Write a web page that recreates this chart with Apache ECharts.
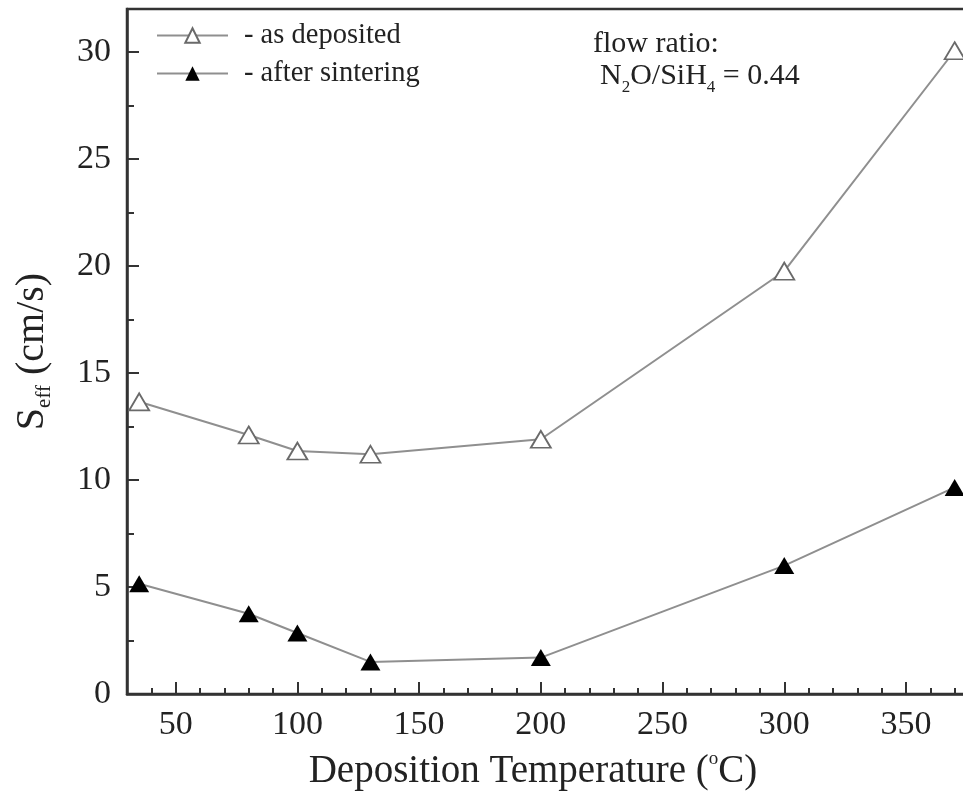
<!DOCTYPE html>
<html>
<head>
<meta charset="utf-8">
<script src="https://cdn.jsdelivr.net/npm/echarts@6/dist/echarts.min.js"></script>
<style>
html,body{margin:0;padding:0;background:#fff;overflow:hidden;}
#chart{width:980px;height:801px;}
</style>
</head>
<body>
<div id="chart"></div>
<script>
// Data
const temperatures = [35, 80, 100, 130, 200, 300, 370];
const asDeposited = [13.65, 12.1, 11.35, 11.2, 11.9, 19.75, 30.05];
const afterSintering = [5.15, 3.75, 2.85, 1.5, 1.7, 6.0, 9.65];
const seriesNames = ['as deposited', 'after sintering'];
const xTicks = [50, 100, 150, 200, 250, 300, 350];
const yTicks = [0, 5, 10, 15, 20, 25, 30];

const FONT = '"Liberation Serif", "Times New Roman", serif';
const pairs = (xs, ys) => xs.map((x, i) => [x, ys[i]]);
const GRID = { left: 127, top: 9, height: 685, width: 852 };

const chart = echarts.init(document.getElementById('chart'));
chart.setOption({
  backgroundColor: '#fff',
  animation: false,
  grid: [
    Object.assign({ show: true, borderColor: '#333', borderWidth: 2.5, containLabel: false }, GRID),
    Object.assign({ show: false, containLabel: false }, GRID)
  ],
  legend: {
    orient: 'vertical',
    left: 151, top: 16,
    itemWidth: 71, itemHeight: 18, itemGap: 9,
    formatter: n => '- ' + n,
    textStyle: { fontFamily: FONT, fontSize: 28.5, color: '#222', padding: [0, 0, 0, 11] },
    data: seriesNames
  },
  xAxis: [
    {
      type: 'value', gridIndex: 0, min: 30, max: 380,
      name: 'Deposition Temperature ({sup|o}C)',
      nameLocation: 'middle', nameGap: 56,
      nameTextStyle: {
        fontFamily: FONT, fontSize: 39, color: '#222', padding: [0, 40, 0, 0],
        rich: { sup: { fontFamily: FONT, fontSize: 19, color: '#222', padding: [0, 0, 24, 0] } }
      },
      axisLine: { lineStyle: { color: '#333', width: 2.5 } },
      axisTick: { inside: true, length: 12, lineStyle: { color: '#333', width: 2 }, customValues: xTicks },
      axisLabel: {
        fontFamily: FONT, fontSize: 34, color: '#222', margin: 14, customValues: xTicks
      },
      splitLine: { show: false }
    },
    {
      type: 'value', gridIndex: 1, min: 30, max: 380, interval: 10,
      axisLine: { show: false },
      axisTick: { inside: true, length: 6, lineStyle: { color: '#333', width: 2 } },
      axisLabel: { show: false },
      splitLine: { show: false }
    }
  ],
  yAxis: [
    {
      type: 'value', gridIndex: 0, min: 0, max: 32, interval: 5,
      name: '{s|S}{sub|eff} (cm/s)',
      nameLocation: 'middle', nameGap: 72, nameRotate: 90,
      nameTextStyle: {
        fontFamily: FONT, fontSize: 40, color: '#222',
        rich: {
          s: { fontFamily: FONT, fontSize: 40, color: '#222' },
          sub: { fontFamily: FONT, fontSize: 21, color: '#222', padding: [24, 0, 0, 0] }
        }
      },
      axisLine: { lineStyle: { color: '#333', width: 2.5 } },
      axisTick: { inside: true, length: 12, lineStyle: { color: '#333', width: 2 } },
      minorTick: { show: true, splitNumber: 2, length: 7, lineStyle: { color: '#333', width: 2 } },
      axisLabel: {
        fontFamily: FONT, fontSize: 34, color: '#222', margin: 16,
        formatter: v => (yTicks.indexOf(v) >= 0 ? String(v) : '')
      },
      splitLine: { show: false }
    },
    {
      type: 'value', gridIndex: 1, min: 0, max: 32, show: false
    }
  ],
  graphic: [
    {
      type: 'text', left: 593, top: 29,
      style: { text: 'flow ratio:', font: '30px ' + FONT, fill: '#222' }
    },
    {
      type: 'text', left: 600, top: 61,
      style: {
        text: 'N{sub|2}O/SiH{sub|4} = 0.44',
        font: '30px ' + FONT, fill: '#222',
        rich: { sub: { fontFamily: FONT, fontSize: 17, fill: '#222', padding: [24, 0, 0, 0] } }
      }
    }
  ],
  series: [
    {
      name: seriesNames[0], type: 'line', xAxisIndex: 0, yAxisIndex: 0,
      data: pairs(temperatures, asDeposited),
      symbol: 'triangle', symbolSize: [20, 17],
      lineStyle: { color: '#8f8f8f', width: 2 },
      itemStyle: { color: '#fff', borderColor: '#6a6a6a', borderWidth: 1.8 },
      clip: false, z: 3
    },
    {
      name: seriesNames[1], type: 'line', xAxisIndex: 0, yAxisIndex: 0,
      data: pairs(temperatures, afterSintering),
      symbol: 'triangle', symbolSize: [20, 17],
      lineStyle: { color: '#8f8f8f', width: 2 },
      itemStyle: { color: '#000', borderColor: '#000', borderWidth: 0 },
      clip: false, z: 3
    }
  ]
});
</script>
</body>
</html>
